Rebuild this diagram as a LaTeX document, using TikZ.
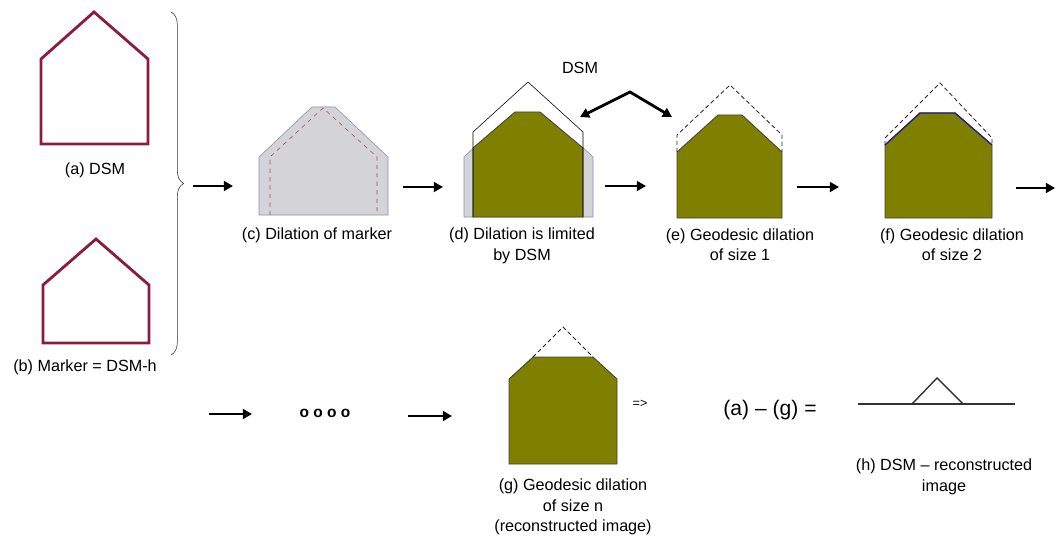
\documentclass[tikz,border=0pt]{standalone}
\usepackage{fontspec}
\setmainfont{Liberation Sans}
\usetikzlibrary{arrows.meta,decorations.pathreplacing}
\definecolor{housered}{RGB}{140,28,62}
\definecolor{dsmolive}{RGB}{128,128,0}
\definecolor{dilgray}{RGB}{212,212,216}
\definecolor{dilline}{RGB}{140,140,175}
\definecolor{edgeblue}{RGB}{40,30,140}
\tikzset{
  flow arrow/.style={line width=2pt,-{Triangle[length=6.5pt,width=7pt]}},
  caption/.style={font=\fontsize{11.5}{14.5}\selectfont,align=center,inner sep=0pt},
  marker house/.style={draw=housered,line width=2pt},
  olive house/.style={fill=dsmolive,draw=black!75,line width=0.6pt},
  dsm dashed/.style={draw=black!85,line width=0.6pt,dash pattern=on 3pt off 2pt},
}

\begin{document}
\begin{tikzpicture}[x=0.025cm,y=-0.025cm]
\useasboundingbox (0,0) rectangle (1056,538);

\draw[marker house] (41,144) -- (41,59) -- (94,12) -- (148,59) -- (148,144) -- cycle;
\node[caption] (capa) at (95,170) {(a) DSM};
\draw[marker house] (43,343) -- (43,285) -- (96,239) -- (149,285) -- (149,343) -- cycle;
\node[caption] (capb) at (85,367) {(b) Marker = DSM-h};
\draw[decorate,decoration={brace,amplitude=9pt},black!80,thin] (171,12) -- (171,355);

\coordinate (ab0) at (193,186);
\coordinate (ab1) at (233,186);
\draw[flow arrow] (ab0) -- (ab1);

% dilation of the marker
\filldraw[fill=dilgray,draw=dilline,thin] (259,215) -- (259,157) -- (312,107) -- (335,107) -- (388,157) -- (388,215) -- cycle;
\draw[housered!80,dashed,thin] (270,215) -- (270,157) -- (323,108) -- (377,157) -- (377,215);
\node[caption] (capc) at (317,235) {(c) Dilation of marker};

\coordinate (cd0) at (403,187);
\coordinate (cd1) at (443,187);
\draw[flow arrow] (cd0) -- (cd1);

\filldraw[fill=dilgray,draw=dilline,thin] (464,217) -- (464,157) -- (517,107) -- (540,107) -- (593,157) -- (593,217) -- cycle;
\fill[white] (473,217) -- (473,132) -- (528,82) -- (583,132) -- (583,217) -- cycle;
\draw[olive house] (473,217) -- (473,148) -- (515,112) -- (540,112) -- (583,148) -- (583,217) -- cycle;
\draw[black,thin] (473,217) -- (473,132) -- (528,82) -- (583,132) -- (583,217);
\node[caption] (capd) at (522,246) {(d) Dilation is limited\\by DSM};

\node[caption] (dsmlbl) at (580,68) {DSM};
\coordinate (dsmtipd) at (580,117);
\coordinate (dsmbend) at (630,92);
\coordinate (dsmtipe) at (672,117);
\draw[line width=2pt,{Triangle[length=6.5pt,width=7pt]}-{Triangle[length=6.5pt,width=7pt]}] (dsmtipd) -- (dsmbend) -- (dsmtipe);

\coordinate (de0) at (605,186);
\coordinate (de1) at (646,186);
\draw[flow arrow] (de0) -- (de1);

% geodesic dilations
\draw[olive house] (677,218) -- (677,152) -- (718,115) -- (742,115) -- (782,152) -- (782,218) -- cycle;
\draw[dsm dashed] (677,152) -- (677,135) -- (730,85) -- (782,135) -- (782,152);
\node[caption] (cape) at (740,245) {(e) Geodesic dilation\\of size 1};

\coordinate (ef0) at (797,187);
\coordinate (ef1) at (839,187);
\draw[flow arrow] (ef0) -- (ef1);

\draw[olive house] (885,218) -- (885,145) -- (920,113) -- (955,113) -- (992,145) -- (992,218) -- cycle;
\draw[edgeblue,line width=1pt] (885,145) -- (920,113) -- (955,113) -- (992,145);
\draw[dsm dashed] (885,145) -- (885,138) -- (940,83) -- (992,138) -- (992,145);
\node[caption] (capf) at (952,245) {(f) Geodesic dilation\\of size 2};

\coordinate (fx0) at (1016,188);
\coordinate (fx1) at (1055,188);
\draw[flow arrow] (fx0) -- (fx1);

% second row
\coordinate (rw0) at (209,414);
\coordinate (rw1) at (252,414);
\draw[flow arrow] (rw0) -- (rw1);
\node[font=\fontsize{11}{13}\selectfont\bfseries] (dots) at (325,413) {o o o o};
\coordinate (dg0) at (408,416);
\coordinate (dg1) at (452,416);
\draw[flow arrow] (dg0) -- (dg1);

\draw[olive house] (509,464) -- (509,379) -- (533,357) -- (593,357) -- (617,379) -- (617,464) -- cycle;
\draw[dsm dashed] (533,357) -- (563,327) -- (593,357);
\node[font=\fontsize{9}{11}\selectfont] (impl) at (640,404) {=>};
\node[caption] (capg) at (573,507) {(g) Geodesic dilation\\of size n\\(reconstructed image)};

\node[font=\fontsize{15}{18}\selectfont] (diff) at (770,410) {(a) – (g) =};
\draw[black!80,line width=1pt] (858,404) -- (1015,404);
\draw[black!80,line width=1pt] (912,404) -- (937,378) -- (963,404);
\node[caption] (caph) at (944,477) {(h) DSM – reconstructed\\image};
\end{tikzpicture}
\end{document}
